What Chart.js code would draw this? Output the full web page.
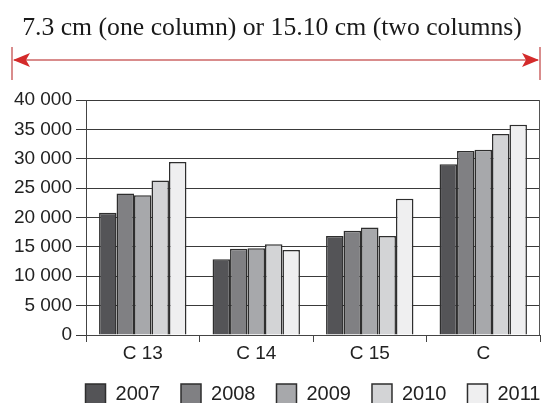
<!DOCTYPE html>
<html>
<head>
<meta charset="utf-8">
<script src="https://cdn.jsdelivr.net/npm/chart.js@4"></script>
<style>
  html, body { margin: 0; padding: 0; background: #fff; }
  #wrap { width: 541px; height: 403px; }
</style>
</head>
<body>
<div id="wrap"><canvas id="chart" width="541" height="403"></canvas></div>
<script>
const categories = ['C 13', 'C 14', 'C 15', 'C'];
const years = ['2007', '2008', '2009', '2010', '2011'];
const values2007 = [20800, 12900, 16850, 29050];
const values2008 = [24100, 14700, 17750, 31300];
const values2009 = [23800, 14750, 18300, 31550];
const values2010 = [26300, 15450, 16850, 34200];
const values2011 = [29450, 14450, 23200, 35800];
const yTicks = [0, 5000, 10000, 15000, 20000, 25000, 30000, 35000, 40000];
const titleText = '7.3 cm (one column) or 15.10 cm (two columns)';

const fills = ['#545457', '#808083', '#a7a8ab', '#d3d4d6', '#efeff0'];
const allValues = [values2007, values2008, values2009, values2010, values2011];

// title text and the red measuring arrow above the plot
const headerPlugin = {
    id: 'header',
    afterLayout(chart) {
        // legend sits a bit right of centre in the original
        chart.legend.left += 43;
        chart.legend.right += 43;
    },
    afterDraw(chart) {
        const ctx = chart.ctx;
        ctx.save();
        let size = 30;
        ctx.font = size + 'px "Liberation Serif", serif';
        const w = ctx.measureText(titleText).width;
        size = size * 500 / w;
        ctx.font = size + 'px "Liberation Serif", serif';
        ctx.fillStyle = '#1a1a1a';
        ctx.textAlign = 'center';
        ctx.textBaseline = 'alphabetic';
        ctx.fillText(titleText, 272, 35);

        // arrow
        ctx.strokeStyle = '#d98c8c';
        ctx.lineWidth = 2;
        ctx.beginPath();
        ctx.moveTo(14, 60);
        ctx.lineTo(538, 60);
        ctx.stroke();
        ctx.beginPath();
        ctx.moveTo(12, 47); ctx.lineTo(12, 80);
        ctx.moveTo(540, 47); ctx.lineTo(540, 80);
        ctx.stroke();
        ctx.fillStyle = '#d42a2a';
        ctx.beginPath();
        ctx.moveTo(13, 60); ctx.lineTo(30, 53); ctx.lineTo(26, 60); ctx.lineTo(30, 67);
        ctx.closePath(); ctx.fill();
        ctx.beginPath();
        ctx.moveTo(539, 60); ctx.lineTo(522, 53); ctx.lineTo(526, 60); ctx.lineTo(522, 67);
        ctx.closePath(); ctx.fill();

        // right frame line of the plot
        const a = chart.chartArea;
        ctx.strokeStyle = '#555';
        ctx.lineWidth = 1;
        ctx.beginPath();
        ctx.moveTo(a.right - 0.5, a.top);
        ctx.lineTo(a.right - 0.5, a.bottom);
        ctx.stroke();
        ctx.restore();
    }
};

const ctx = document.getElementById('chart').getContext('2d');
new Chart(ctx, {
    type: 'bar',
    data: {
        labels: categories,
        datasets: years.map((y, i) => ({
            label: y,
            data: allValues[i],
            backgroundColor: fills[i],
            borderColor: '#2e2e2e',
            borderWidth: 1.5,
            categoryPercentage: 0.77,
            barPercentage: 1
        }))
    },
    options: {
        responsive: false,
        animation: false,
        layout: { padding: { top: 100, right: 1, left: 0, bottom: -11 } },
        scales: {
            x: {
                afterFit(scale) { scale.height = 28; },
                grid: { display: true, drawOnChartArea: false, drawTicks: true, tickLength: 7, color: '#444', offset: true },
                border: { color: '#444', width: 1 },
                ticks: { color: '#222', font: { family: '"Liberation Sans", Arial', size: 19 }, padding: 0 }
            },
            y: {
                min: 0,
                max: 40000,
                afterBuildTicks(scale) { scale.ticks = yTicks.map(v => ({ value: v })); },
                afterFit(scale) { scale.width = 86; },
                grid: { color: '#3a3a3a', lineWidth: 1, tickLength: 10 },
                border: { color: '#444', width: 1 },
                ticks: {
                    autoSkip: false,
                    color: '#222',
                    padding: 4,
                    font: { family: '"Liberation Sans", Arial', size: 19 },
                    callback: v => String(v).replace(/\B(?=(\d{3})+(?!\d))/g, ' ')
                }
            }
        },
        plugins: {
            legend: {
                position: 'bottom',
                labels: {
                    boxWidth: 20,
                    boxHeight: 20,
                    padding: 21,
                    color: '#222',
                    font: { family: '"Liberation Sans", Arial', size: 20 }
                }
            },
            tooltip: { enabled: false }
        }
    },
    plugins: [headerPlugin]
});
</script>
</body>
</html>
